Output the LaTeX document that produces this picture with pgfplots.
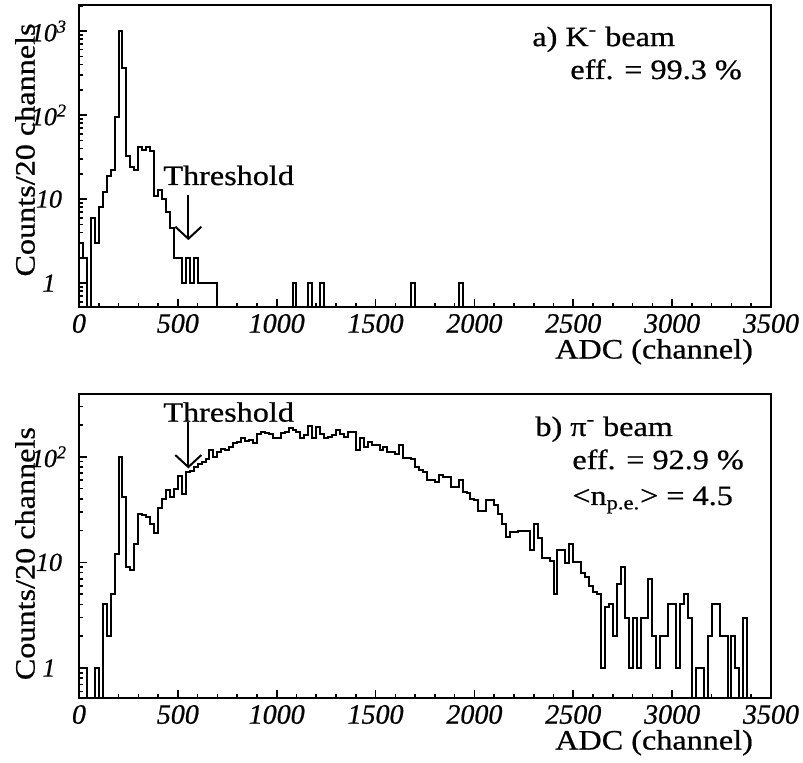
\documentclass[border=0pt]{standalone}
\usepackage{fontspec}
\setmainfont{Liberation Serif}[FakeStretch=1.15, FakeBold=0.7]
\newfontfamily\tickfont{Liberation Serif}[FakeBold=0.7]
\usepackage{pgfplots}
\pgfplotsset{compat=1.18}
\usetikzlibrary{arrows.meta}

\newcommand{\txt}{\fontsize{14}{16}\selectfont}
\pgfplotsset{
  every axis/.append style={
    scale only axis, width=346pt,
    xmin=0, xmax=3500,
    axis line style={line width=1pt},
    tick style={line width=0.8pt, black},
    tick align=inside, xtick pos=left, ytick pos=left,
    major tick length=4pt, minor tick length=2.2pt,
    xtick={0,500,1000,1500,2000,2500,3000,3500},
    xticklabels={0,500,1000,1500,2000,2500,3000,3500},
    minor x tick num=4,
    xticklabel style={font=\fontsize{14}{16}\selectfont\tickfont\itshape},
    yticklabel style={font=\fontsize{13}{14}\selectfont\tickfont\itshape, anchor=center, xshift=-15pt},
    xlabel style={font=\txt, at={(axis description cs:0.984,0)}, anchor=north east, yshift=-12.5pt},
    ylabel style={font=\txt, anchor=center},
  },
}

\begin{document}
\begin{tikzpicture}
\useasboundingbox (-39.5pt,-227.5pt) rectangle (362pt,153.5pt);
% ---------------- a) K- beam ----------------
\begin{axis}[ymode=log, height=151pt, ymin=0.52, ymax=2040,
  xlabel={ADC (channel)}, ylabel={Counts/20 channels},
  ytick={1,10,100,1000},
  yticklabels={1,10,10\textsuperscript{2},10\textsuperscript{3}},
  minor ytick={0.6,0.7,0.8,0.9,2,3,4,5,6,7,8,9,20,30,40,50,60,70,80,90,200,300,400,500,600,700,800,900,2000},
  ylabel style={at={(axis description cs:-0.078,0.52)}},
]
\addplot[const plot, black, line width=1pt, mark=none] coordinates {
(0,3) (20,2) (40,0.01) (60,6) (80,3) (100,8) (120,12) (140,19) (160,22) (180,95)
(200,1000) (220,360) (240,33) (260,24) (280,22) (300,42) (320,38) (340,42) (360,37) (380,11)
(400,13) (420,10) (440,7) (460,4.5) (480,2) (500,2) (520,1) (540,2) (560,1) (580,2)
(600,1) (620,1) (640,1) (660,1) (680,1) (700,0.01)
(1080,1) (1100,0.01) (1160,1) (1180,0.01) (1220,1) (1240,0.01)
(1680,1) (1700,0.01) (1920,1) (1940,0.01) (3500,0.01)
};
\node[anchor=base west, inner sep=0pt, font=\txt] at (rel axis cs:0.6546,0.864) {a) K\textsuperscript{-} beam};
\node[anchor=base west, inner sep=0pt, font=\txt] at (rel axis cs:0.7095,0.755) {eff. = 99.3 \%};
\node[anchor=base west, inner sep=0pt, font=\txt] at (rel axis cs:0.1214,0.404) {Threshold};
\draw[line width=1pt, -{Straight Barb[length=6pt,width=13pt,line width=1pt]}] (axis cs:553,11.2) -- (axis cs:553,3.25);
\end{axis}
% ---------------- b) pi- beam ----------------
\begin{axis}[ymode=log, at={(0,-195.5pt)}, height=152pt, ymin=0.52, ymax=393,
  xlabel={ADC (channel)}, ylabel={Counts/20 channels},
  ytick={1,10,100},
  yticklabels={1,10,10\textsuperscript{2}},
  minor ytick={0.6,0.7,0.8,0.9,2,3,4,5,6,7,8,9,20,30,40,50,60,70,80,90,200,300},
  ylabel style={at={(axis description cs:-0.078,0.475)}},
]
\addplot[const plot, black, line width=1pt, mark=none] coordinates {
(0,1) (20,1) (40,0.01) (60,0.01) (80,1) (100,0.01) (120,4) (140,2) (160,5) (180,12)
(200,100) (220,42) (240,9) (260,8.5) (280,15) (300,29) (320,28) (340,27) (360,23) (380,19)
(400,33) (420,40) (440,48) (460,42) (480,50) (500,66) (520,44) (540,72) (560,74) (580,80)
(600,86) (620,89) (640,95) (660,116) (680,100) (700,110) (720,118) (740,116) (760,124) (780,134)
(800,138) (820,150) (840,140) (860,145) (880,134) (900,166) (920,173) (940,168) (960,166) (980,152)
(1000,150) (1020,168) (1040,173) (1060,186) (1080,180) (1100,173) (1120,150) (1140,160) (1160,195) (1180,150)
(1200,193) (1220,166) (1240,150) (1260,155) (1280,160) (1300,178) (1320,166) (1340,155) (1360,173) (1380,173)
(1400,117) (1420,150) (1440,124) (1460,138) (1480,128) (1500,128) (1520,115) (1540,124) (1560,111) (1580,111)
(1600,107) (1620,129) (1640,97) (1660,97) (1680,95) (1700,80) (1720,75) (1740,72) (1760,60) (1780,60)
(1800,58) (1820,67) (1840,65) (1860,65) (1880,52) (1900,52) (1920,60) (1940,46) (1960,45) (1980,40)
(2000,39) (2020,31) (2040,31) (2060,39) (2080,39) (2100,35) (2120,29) (2140,23) (2160,17.4) (2180,19.5)
(2200,19.5) (2220,20) (2240,20) (2260,20) (2280,13) (2300,23) (2320,17) (2340,11) (2360,11) (2380,10.4)
(2400,5) (2420,13) (2440,13) (2460,9.8) (2480,15) (2500,10) (2520,10) (2540,8) (2560,7.3) (2580,6)
(2600,5.2) (2620,5) (2640,1) (2660,3.8) (2680,4) (2700,2) (2720,6.3) (2740,9) (2760,3) (2780,1)
(2800,3) (2820,1) (2840,3) (2860,3) (2880,7) (2900,2) (2920,1) (2940,2) (2960,2) (2980,4)
(3000,4) (3020,1) (3040,4) (3060,5) (3080,3) (3100,0.01) (3120,1) (3140,1) (3160,0.01) (3180,2)
(3200,4) (3220,4) (3240,2) (3260,2) (3280,0.01) (3300,2) (3320,1) (3340,0.01) (3360,3) (3380,0.01)
(3500,0.01)
};
\node[anchor=base west, inner sep=0pt, font=\txt] at (rel axis cs:0.659,0.862) {b) π\textsuperscript{-} beam};
\node[anchor=base west, inner sep=0pt, font=\txt] at (rel axis cs:0.7124,0.753) {eff. = 92.9 \%};
\node[anchor=base west, inner sep=0pt, font=\txt] at (rel axis cs:0.7124,0.635) {<n\textsubscript{p.e.}> = 4.5};
\node[anchor=base west, inner sep=0pt, font=\txt] at (rel axis cs:0.1214,0.909) {Threshold};
\draw[line width=1pt, -{Straight Barb[length=6pt,width=13pt,line width=1pt]}] (axis cs:553,215) -- (axis cs:553,77.6);
\end{axis}
\end{tikzpicture}
\end{document}
